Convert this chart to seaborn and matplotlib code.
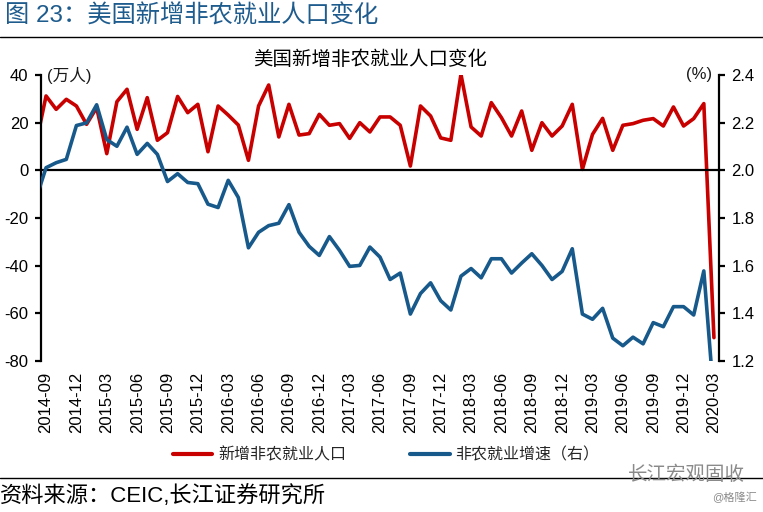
import numpy as np
import pandas as pd
import seaborn as sns
import matplotlib.pyplot as plt
from matplotlib.lines import Line2D

# monthly data, 2014-08 .. 2020-03 (first point sits just left of the axis)
months = pd.period_range('2014-08', '2020-03', freq='M').strftime('%Y-%m').tolist()

# 新增非农就业人口 (万人)
payrolls = [11.0, 31.2, 25.6, 29.8, 27.0, 19.3, 26.3, 7.0, 28.8, 34.0,
             17.2, 30.5, 12.6, 15.8, 31.0, 24.2, 27.7, 7.8, 27.0, 23.2,
             19.0, 4.2, 27.0, 35.8, 14.0, 27.7, 14.8, 15.4, 23.5, 18.9,
             19.6, 13.4, 20.0, 16.1, 22.4, 22.4, 18.9, 1.8, 27.0, 22.8,
             13.6, 12.6, 40.3, 18.2, 14.4, 28.4, 22.1, 14.4, 24.9, 8.4,
             20.0, 14.4, 18.6, 27.7, 0.4, 15.1, 21.8, 8.4, 18.9, 19.6,
             21.0, 21.7, 18.6, 26.6, 18.6, 21.7, 28.0, -70.2]

# 非农就业增速 (%, right axis)
growth = [1.88, 2.011, 2.032, 2.046, 2.188, 2.199, 2.275, 2.129, 2.101, 2.181,
          2.067, 2.113, 2.067, 1.953, 1.986, 1.949, 1.944, 1.858, 1.844, 1.958,
          1.886, 1.675, 1.740, 1.768, 1.778, 1.856, 1.740, 1.681, 1.643, 1.722,
          1.664, 1.597, 1.601, 1.678, 1.636, 1.542, 1.569, 1.397, 1.483, 1.528,
          1.453, 1.414, 1.556, 1.588, 1.549, 1.629, 1.629, 1.569, 1.611, 1.650,
          1.601, 1.542, 1.576, 1.671, 1.397, 1.375, 1.421, 1.296, 1.264, 1.300,
          1.272, 1.361, 1.344, 1.428, 1.428, 1.393, 1.578, 1.04]

left_ticks = [-80, -60, -40, -20, 0, 20, 40]
right_ticks = [1.2, 1.4, 1.6, 1.8, 2.0, 2.2, 2.4]

df = pd.DataFrame({'month': months, 'payrolls': payrolls, 'growth': growth})
df['idx'] = np.arange(len(df)) - 1  # 2014-09 -> 0

red = '#C80000'
blue = '#17598A'

sns.set_theme(style='white')
plt.rcParams['font.family'] = ['Liberation Sans', 'Noto Sans CJK SC', 'DejaVu Sans']
plt.rcParams['axes.unicode_minus'] = False

fig = plt.figure(figsize=(7.63, 5.12), dpi=100)
ax = fig.add_axes([41 / 763, 151 / 512, 678 / 763, 286 / 512])
ax2 = ax.twinx()

sns.lineplot(data=df, x='idx', y='payrolls', ax=ax, color=red, linewidth=2.6, legend=False)
sns.lineplot(data=df, x='idx', y='growth', ax=ax2, color=blue, linewidth=2.6, legend=False)

ax.set_xlim(-0.5, 66.5)
ax.set_ylim(-80, 40)
ax2.set_ylim(1.2, 2.4)
ax.set_yticks(left_ticks)
ax2.set_yticks(right_ticks)
ax2.set_yticklabels([f'{v:.1f}' for v in right_ticks])
for a in (ax, ax2):
    a.set_xlabel('')
    a.set_ylabel('')
    a.grid(False)
    for s in a.spines.values():
        s.set_color('black')
        s.set_linewidth(1.6)
    a.spines['top'].set_visible(False)

ax.spines['right'].set_visible(False)
ax2.spines['left'].set_visible(False)
ax2.spines['bottom'].set_visible(False)

# x axis line at zero, tick marks between categories
ax.spines['bottom'].set_position(('data', 0))
ax.set_xticks(np.arange(-0.5, 66, 3))
ax.tick_params(axis='x', labelbottom=False, direction='out', length=4, width=1.6, color='black')
ax.tick_params(axis='y', direction='out', length=4, width=1.6, color='black',
               labelsize=12, labelcolor='black', pad=5, left=True)
ax2.tick_params(axis='y', direction='out', length=4, width=1.6, color='black',
                labelsize=12, labelcolor='black', pad=5, right=True)

# date labels at the bottom of the plot area
sec = ax.secondary_xaxis('bottom')
lab_idx = df['idx'][df['idx'] % 3 == 0]
sec.set_xticks(lab_idx.tolist())
sec.set_xticklabels(df.loc[lab_idx.index, 'month'].tolist(), rotation=90)
sec.tick_params(length=0, pad=8, labelsize=12, labelcolor='black')
sec.spines['bottom'].set_visible(False)

# unit labels
fig.text(47 / 763, 1 - 75 / 512, '(万人)', fontsize=12, va='center', color='#1a1a1a')
fig.text(712 / 763, 1 - 75 / 512, '(%)', fontsize=12, va='center', ha='right', color='#1a1a1a')

# titles
fig.text(5 / 763, 1 - 16 / 512, '图 23：美国新增非农就业人口变化', fontsize=17.5,
         color='#1F5C8E', va='center')
fig.add_artist(Line2D([0, 1], [1 - 37 / 512] * 2, color='black', lw=1))
fig.text(370 / 763, 1 - 60 / 512, '美国新增非农就业人口变化', fontsize=14,
         ha='center', va='center', color='black')

# legend
handles = [Line2D([], [], color=red, lw=3), Line2D([], [], color=blue, lw=3)]
fig.legend(handles, ['新增非农就业人口', '非农就业增速（右）'], loc='center',
           bbox_to_anchor=(386 / 763, 1 - 455 / 512), ncol=2, frameon=False,
           fontsize=11.5, handlelength=2.5, handletextpad=0.35, columnspacing=4.0)

# footer
fig.add_artist(Line2D([0, 1], [1 - 478 / 512] * 2, color='black', lw=1))
fig.text(0, 1 - 496 / 512, '资料来源：CEIC,长江证券研究所', fontsize=16,
         va='center', color='black')
fig.text(745 / 763, 1 - 475 / 512, '长江宏观固收', fontsize=14, ha='right',
         va='center', color='#8a8a8a')
fig.text(757 / 763, 1 - 497 / 512, '@格隆汇', fontsize=8, ha='right',
         va='center', color='#8a8a8a')

plt.savefig('out.png', dpi=100)
